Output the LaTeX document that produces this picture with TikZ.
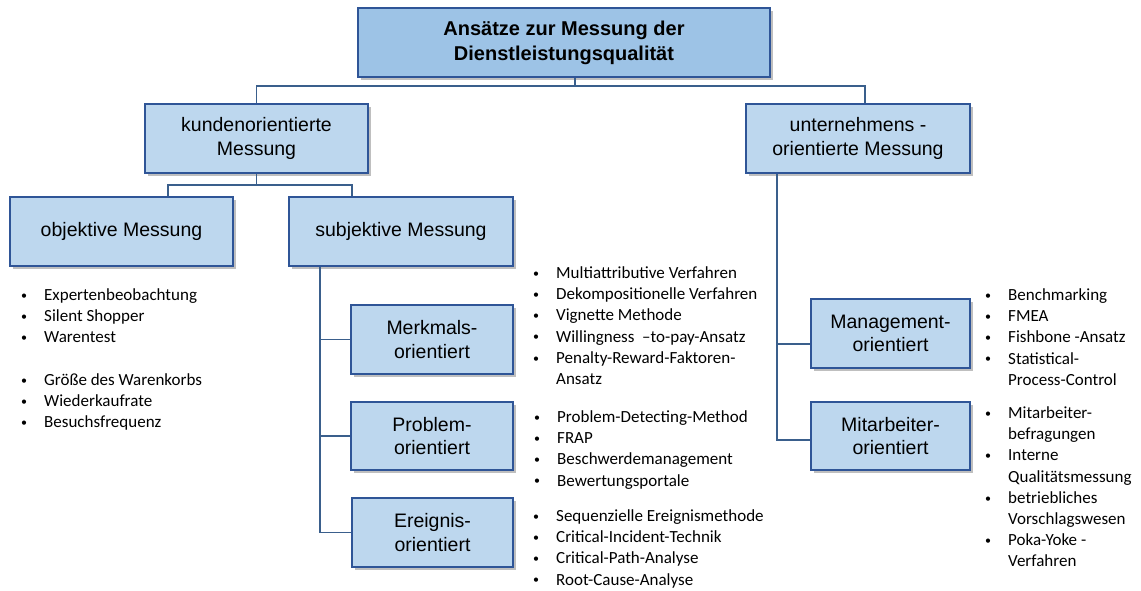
\documentclass[tikz,border=0pt]{standalone}
\usepackage{fontspec}
\setmainfont{Liberation Sans}
\newfontfamily\listfont{Carlito}
\usetikzlibrary{shadows}
\definecolor{boxfill}{RGB}{189,215,238}
\definecolor{topfill}{RGB}{157,195,230}
\definecolor{boxline}{RGB}{47,85,151}
\definecolor{connline}{RGB}{58,95,140}
% small bullet hung 20pt left of the item text
\newcommand\blt{\llap{\makebox[0pt]{\raisebox{1.2pt}{\fontsize{12}{12}\selectfont\textbullet}}\hspace{20pt}}}

\begin{document}
\begin{tikzpicture}[x=1pt,y=-1pt,
  box/.style={draw=boxline, line width=1.2pt, fill=boxfill, inner sep=0pt, align=center,
    font=\fontsize{19.5}{23.5}\selectfont,
    drop shadow={shadow xshift=3pt, shadow yshift=-3pt, fill=black, opacity=0.25}},
  conn/.style={draw=connline, line width=1.2pt},
  itemlist/.style={inner sep=0pt, anchor=base west, font=\listfont\fontsize{17}{21.2}\selectfont}]

\useasboundingbox (0,0) rectangle (1141,590);

% boxes
\node[box, fill=topfill, font=\bfseries\fontsize{20}{25}\selectfont,
      minimum width=412pt, minimum height=69pt] (top) at (564,42.5)
  {Ansätze zur Messung der\\Dienstleistungsqualität};
\node[box, minimum width=223pt, minimum height=69pt] (kunde) at (256.5,138.5)
  {kundenorientierte\\Messung};
\node[box, minimum width=224pt, minimum height=69pt] (unter) at (858,138.5)
  {unternehmens -\\orientierte Messung};
\node[box, minimum width=223pt, minimum height=69pt] (obj) at (121.5,231.5)
  {\raisebox{-2pt}{objektive Messung}};
\node[box, minimum width=224pt, minimum height=69pt] (subj) at (401,231.5)
  {\raisebox{-2pt}{subjektive Messung}};
\node[box, minimum width=162pt, minimum height=69pt] (merk) at (432,339.5)
  {Merkmals-\\orientiert};
\node[box, minimum width=162pt, minimum height=68pt] (prob) at (432,436)
  {Problem-\\orientiert};
\node[box, minimum width=161pt, minimum height=69pt] (ereig) at (432.5,532.5)
  {Ereignis-\\orientiert};
\node[box, minimum width=159pt, minimum height=69pt] (mgmt) at (890.5,333.5)
  {Management-\\orientiert};
\node[box, minimum width=159pt, minimum height=68pt] (mitar) at (890.5,436)
  {Mitarbeiter-\\orientiert};

% connectors
\coordinate (j1) at (575,86);
\draw[conn] (j1 |- top.south) -- (j1);
\draw[conn] (kunde.north) |- (j1) -| ([xshift=7pt]unter.north);

\coordinate (j2) at (256.5,185);
\draw[conn] (kunde.south) -- (j2);
\draw[conn] ([xshift=46.5pt]obj.north) |- (j2) -| ([xshift=-49pt]subj.north);

\coordinate (sv) at ([xshift=-81pt]subj.south);
\draw[conn] (sv) |- (ereig.west);
\draw[conn] (sv |- merk.west) -- (merk.west);
\draw[conn] (sv |- prob.west) -- (prob.west);

\coordinate (uv) at ([xshift=-81pt]unter.south);
\coordinate (mb) at ([yshift=-10.5pt]mgmt.west);
\coordinate (ab) at ([yshift=-4pt]mitar.west);
\draw[conn] (uv) |- (ab);
\draw[conn] (uv |- mb) -- (mb);

% item lists
\node[itemlist] (objlist) at (44,300.5) {\begin{tabular}[t]{@{}l@{}}
\blt Expertenbeobachtung\\
\blt Silent Shopper\\
\blt Warentest\\
\\
\blt Größe des Warenkorbs\\
\blt Wiederkaufrate\\
\blt Besuchsfrequenz
\end{tabular}};

\node[itemlist] (merklist) at (556,278.5) {\begin{tabular}[t]{@{}l@{}}
\blt Multiattributive Verfahren\\
\blt Dekompositionelle Verfahren\\
\blt Vignette Methode\\
\blt Willingness \ –to-pay-Ansatz\\
\blt Penalty-Reward-Faktoren-\\
Ansatz
\end{tabular}};

\node[itemlist] (problist) at (557,422.5) {\begin{tabular}[t]{@{}l@{}}
\blt Problem-Detecting-Method\\
\blt FRAP\\
\blt Beschwerdemanagement\\
\blt Bewertungsportale
\end{tabular}};

\node[itemlist] (ereiglist) at (556,521.5) {\begin{tabular}[t]{@{}l@{}}
\blt Sequenzielle Ereignismethode\\
\blt Critical-Incident-Technik\\
\blt Critical-Path-Analyse\\
\blt Root-Cause-Analyse
\end{tabular}};

\node[itemlist] (mgmtlist) at (1008,300.5) {\begin{tabular}[t]{@{}l@{}}
\blt Benchmarking\\
\blt FMEA\\
\blt Fishbone -Ansatz\\
\blt Statistical-\\
Process-Control
\end{tabular}};

\node[itemlist] (mitarlist) at (1008,418.5) {\begin{tabular}[t]{@{}l@{}}
\blt Mitarbeiter-\\
befragungen\\
\blt Interne\\
Qualitätsmessung\\
\blt betriebliches\\
Vorschlagswesen\\
\blt Poka-Yoke -\\
Verfahren
\end{tabular}};
\end{tikzpicture}
\end{document}
